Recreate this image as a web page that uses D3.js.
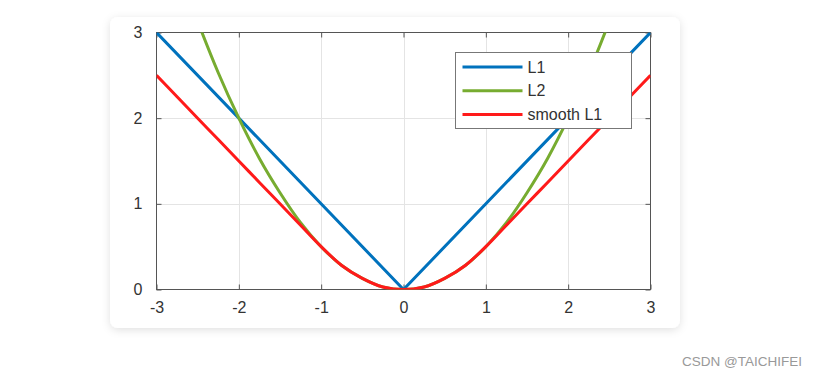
<!DOCTYPE html>
<html>
<head>
<meta charset="utf-8">
<script src="https://cdn.jsdelivr.net/npm/d3@7"></script>
<style>
  html, body { margin: 0; padding: 0; background: #fff; }
  #chart { width: 816px; height: 377px; }
</style>
</head>
<body>
<div id="chart"></div>
<script>
const width = 816, height = 377;

// values
const xTicks = [-3, -2, -1, 0, 1, 2, 3];
const yTicks = [0, 1, 2, 3];
const l1X = [-3, 0, 3];
const l1Y = [3, 0, 3];
const curveX = [-3, -2.75, -2.5, -2.25, -2, -1.75, -1.5, -1.25, -1, -0.75, -0.5, -0.25, 0,
                0.25, 0.5, 0.75, 1, 1.25, 1.5, 1.75, 2, 2.25, 2.5, 2.75, 3];
const l2Y = [4.5, 3.78, 3.13, 2.53, 2, 1.53, 1.13, 0.78, 0.5, 0.28, 0.13, 0.03, 0,
             0.03, 0.13, 0.28, 0.5, 0.78, 1.13, 1.53, 2, 2.53, 3.13, 3.78, 4.5];
const smoothY = [2.5, 2.25, 2, 1.75, 1.5, 1.25, 1, 0.75, 0.5, 0.28, 0.13, 0.03, 0,
                 0.03, 0.13, 0.28, 0.5, 0.75, 1, 1.25, 1.5, 1.75, 2, 2.25, 2.5];
const seriesNames = ['L1', 'L2', 'smooth L1'];
const seriesColors = ['#0072BD', '#77AC30', '#FF1A1A'];

const svg = d3.select('#chart').append('svg')
    .attr('width', width)
    .attr('height', height)
    .style('font-family', '"Liberation Sans", Arial, sans-serif');

// card with shadow
const defs = svg.append('defs');
const shadow = defs.append('filter').attr('id', 'shadow')
    .attr('x', '-10%').attr('y', '-10%').attr('width', '120%').attr('height', '120%');
shadow.append('feDropShadow').attr('dx', 0).attr('dy', 2).attr('stdDeviation', 4)
    .attr('flood-color', '#000').attr('flood-opacity', 0.12);

svg.append('rect')
    .attr('x', 110).attr('y', 17).attr('width', 570).attr('height', 311)
    .attr('rx', 8).attr('fill', '#fff').attr('filter', 'url(#shadow)');

const plot = { left: 156.5, right: 650.5, top: 32.5, bottom: 289.5 };
const x = d3.scaleLinear().domain([-3, 3]).range([plot.left, plot.right]);
const y = d3.scaleLinear().domain([0, 3]).range([plot.bottom, plot.top]);

defs.append('clipPath').attr('id', 'clip').append('rect')
    .attr('x', plot.left).attr('y', plot.top)
    .attr('width', plot.right - plot.left).attr('height', plot.bottom - plot.top);

// grid
const grid = svg.append('g').attr('stroke', '#e4e4e4').attr('stroke-width', 1);
grid.selectAll('.gx').data(xTicks.slice(1, -1)).enter().append('line')
    .attr('x1', d => Math.round(x(d)) + 0.5).attr('x2', d => Math.round(x(d)) + 0.5)
    .attr('y1', plot.top).attr('y2', plot.bottom);
grid.selectAll('.gy').data(yTicks.slice(1, -1)).enter().append('line')
    .attr('y1', d => Math.round(y(d)) + 0.5).attr('y2', d => Math.round(y(d)) + 0.5)
    .attr('x1', plot.left).attr('x2', plot.right);

// box axes with inward ticks, plain hyphen minus like the original
const axisColor = '#555';
const tickLen = 5;
const fmt = d => String(d);
svg.append('g').attr('transform', `translate(0,${plot.bottom})`)
    .call(d3.axisBottom(x).tickValues(xTicks).tickSize(-tickLen).tickPadding(12).tickFormat(fmt))
    .call(g => g.select('.domain').remove());
svg.append('g').attr('transform', `translate(0,${plot.top})`)
    .call(d3.axisTop(x).tickValues(xTicks).tickSize(-tickLen).tickFormat(''))
    .call(g => g.select('.domain').remove());
svg.append('g').attr('transform', `translate(${plot.left},0)`)
    .call(d3.axisLeft(y).tickValues(yTicks).tickSize(-tickLen).tickPadding(14).tickFormat(fmt))
    .call(g => g.select('.domain').remove());
svg.append('g').attr('transform', `translate(${plot.right},0)`)
    .call(d3.axisRight(y).tickValues(yTicks).tickSize(-tickLen).tickFormat(''))
    .call(g => g.select('.domain').remove());

svg.selectAll('.tick line').attr('stroke', axisColor);
svg.selectAll('.tick text')
    .attr('fill', '#333')
    .style('font-size', '16px')
    .style('font-family', '"Liberation Sans", Arial, sans-serif');

svg.append('rect')
    .attr('x', plot.left).attr('y', plot.top)
    .attr('width', plot.right - plot.left).attr('height', plot.bottom - plot.top)
    .attr('fill', 'none').attr('stroke', axisColor).attr('stroke-width', 1);

// lines
const series = [
    { pts: l1X.map((v, i) => [v, l1Y[i]]), curve: d3.curveLinear },
    { pts: curveX.map((v, i) => [v, l2Y[i]]), curve: d3.curveMonotoneX },
    { pts: curveX.map((v, i) => [v, smoothY[i]]), curve: d3.curveMonotoneX }
];
const lines = svg.append('g').attr('clip-path', 'url(#clip)');
series.forEach((s, i) => {
    lines.append('path')
        .datum(s.pts)
        .attr('fill', 'none')
        .attr('stroke', seriesColors[i])
        .attr('stroke-width', 3)
        .attr('stroke-linejoin', 'round')
        .attr('d', d3.line().x(d => x(d[0])).y(d => y(d[1])).curve(s.curve));
});

// legend
const legend = svg.append('g').attr('transform', 'translate(455.5,52.5)');
legend.append('rect')
    .attr('width', 176).attr('height', 76)
    .attr('fill', '#fff').attr('stroke', '#777').attr('stroke-width', 1);
seriesNames.forEach((name, i) => {
    const ly = 14.5 + i * 23.7;
    legend.append('line')
        .attr('x1', 7).attr('x2', 67).attr('y1', ly).attr('y2', ly)
        .attr('stroke', seriesColors[i]).attr('stroke-width', 3);
    legend.append('text')
        .attr('x', 72).attr('y', ly + 5.5)
        .attr('fill', '#333')
        .style('font-size', '16px')
        .text(name);
});

// watermark
svg.append('text')
    .attr('x', 802).attr('y', 366)
    .attr('text-anchor', 'end')
    .attr('fill', '#999')
    .style('font-size', '13.5px')
    .style('font-family', '"Liberation Sans", Arial, sans-serif')
    .text('CSDN @TAICHIFEI');
</script>
</body>
</html>
